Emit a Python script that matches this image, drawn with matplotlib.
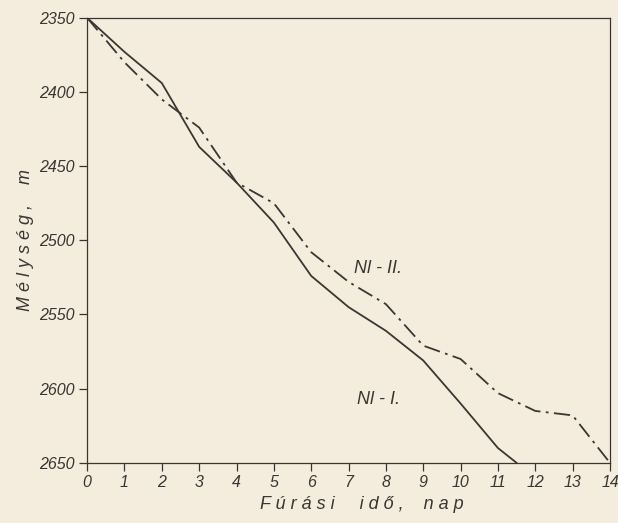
import matplotlib
matplotlib.use("Agg")
import matplotlib.pyplot as plt

# drilling time (days) vs depth (m) for the two wells
days_1 = [0, 1, 2, 3, 4, 5, 6, 7, 8, 9, 10, 11, 11.5]
depth_1 = [2350, 2373, 2394, 2437, 2461, 2488, 2524, 2545, 2561, 2581, 2610, 2640, 2650]

days_2 = [0, 1, 2, 3, 4, 5, 6, 7, 8, 9, 10, 11, 12, 13, 14]
depth_2 = [2350, 2380, 2405, 2424, 2461, 2475, 2508, 2528, 2543, 2571, 2580, 2603, 2615, 2618, 2650]

x_ticks = list(range(0, 15))
y_ticks = [2350, 2400, 2450, 2500, 2550, 2600, 2650]

BG = "#f4ecdd"
INK = "#3a3632"
FONT = ["Liberation Sans", "DejaVu Sans"]

fig = plt.figure(figsize=(6.18, 5.23), dpi=100, facecolor=BG)
ax = fig.add_axes([0.141, 0.115, 0.846, 0.851], facecolor=BG)

ax.plot(days_1, depth_1, color=INK, lw=1.3, ls="-")
ax.plot(days_2, depth_2, color=INK, lw=1.3, ls=(0, (9, 3, 1.5, 3)))

ax.set_xlim(0, 14)
ax.set_ylim(2650, 2350)
ax.set_xticks(x_ticks)
ax.set_yticks(y_ticks)
ax.set_xticklabels([str(t) for t in x_ticks], fontsize=11.5, style="italic",
                   family=FONT, color=INK)
ax.set_yticklabels([str(t) for t in y_ticks], fontsize=11.5, style="italic",
                   family=FONT, color=INK)
ax.tick_params(direction="out", length=6, width=0.9, color=INK, pad=3)

for s in ax.spines.values():
    s.set_color(INK)
    s.set_linewidth(0.9)

ax.set_xlabel("F ú r á s i     i d ő ,    n a p", fontsize=13, style="italic",
              family=FONT, color=INK)
ax.xaxis.set_label_coords(0.525, -0.075)
ax.set_ylabel("M é l y s é g ,    m", fontsize=13, style="italic",
              family=FONT, color=INK, labelpad=4)

ax.text(7.8, 2519, "Nl - II.", fontsize=13, style="italic", family=FONT,
        color=INK, ha="center", va="center")
ax.text(7.8, 2607, "Nl - I.", fontsize=13, style="italic", family=FONT,
        color=INK, ha="center", va="center")

fig.savefig("out.png", dpi=100, facecolor=BG)
